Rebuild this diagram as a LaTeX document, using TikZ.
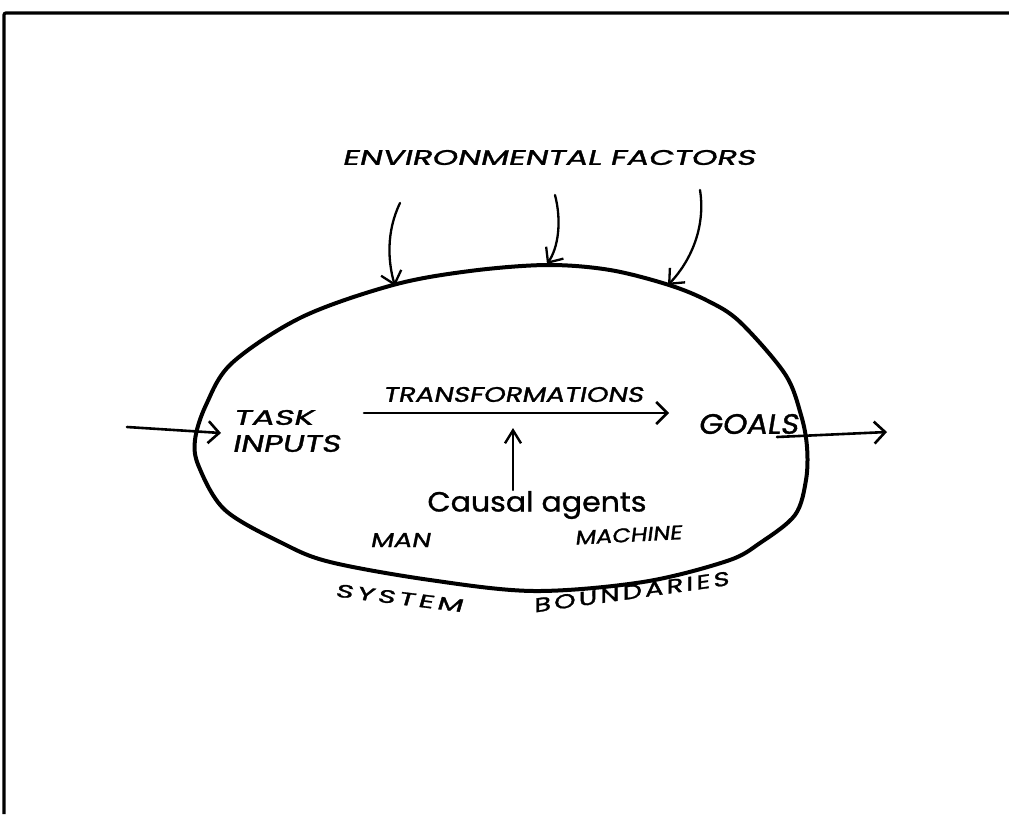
\documentclass[tikz,border=0pt]{standalone}
\usepackage{graphicx}
\usepackage{fontspec}
\usetikzlibrary{arrows.meta}
% hand-lettered look: slanted capitals, upright lower case
\newfontfamily\handcaps[FakeSlant=0.15,FakeBold=1.2]{Poppins}
\newfontfamily\handspaced[FakeSlant=0.1,FakeBold=1.4,LetterSpace=12]{Poppins}
\newfontfamily\handlower[FakeBold=1.0]{Poppins}
% set a text to an exact width and total height
\newcommand{\fitbox}[3]{\resizebox*{#1}{#2}{#3}}
\begin{document}
\begin{tikzpicture}[x=1pt,y=-1pt,
  boundary/.style={line width=4pt, line join=round},
  flow/.style={line width=2.6pt, line cap=round,
    -{Straight Barb[length=11pt,width=22pt]}},
  influx/.style={line width=2.3pt, line cap=round,
    -{Straight Barb[length=12pt,width=21pt]}},
  lbl/.style={inner sep=0pt, outer sep=0pt}]
\useasboundingbox (0,0) rectangle (1009,814);
\fill[white] (0,0) rectangle (1009,814);

% page frame (top and left edges)
\draw[line width=3.2pt, rounded corners=2pt] (4,814) -- (4,13) -- (1009,13);

% system boundary
\draw[boundary] plot[smooth cycle, tension=0.55] coordinates {
  (547,265) (610,270) (669,285) (708,301) (740,322) (785,374)
  (801,415) (807,447) (806,480) (795,515) (760,543) (727,561)
  (643,582) (534,591) (430,580) (330,562) (282,543) (225,510)
  (199,467) (195,440) (206,405) (232,363) (302,317) (393,285)
  (470,271)};

% labels
\node[lbl] (env)   at (548.5,157.5) {\fitbox{413pt}{15pt}{\handcaps ENVIRONMENTAL FACTORS}};
\node[lbl] (task)  at (273,417.5) {\fitbox{80pt}{15pt}{\handcaps TASK}};
\node[lbl] (inp)   at (286,443.5) {\fitbox{108pt}{17pt}{\handcaps INPUTS}};
\node[lbl] (trans) at (513,394.5) {\fitbox{260pt}{15pt}{\handcaps TRANSFORMATIONS}};
\node[lbl] (goals) at (748,424)   {\fitbox{100pt}{20pt}{\handcaps GOALS}};
\node[lbl] (causal) at (537,505)  {\fitbox{219pt}{28pt}{\handlower Causal agents}};
\node[lbl] (man)   at (400,540)   {\fitbox{60pt}{14pt}{\handcaps MAN}};
\node[lbl, rotate=3] (mach) at (628,535) {\fitbox{107pt}{14pt}{\handcaps MACHINE}};
\node[lbl, rotate=-7] (sys) at (399,598) {\fitbox{128pt}{13pt}{\handspaced SYSTEM}};
\node[lbl, rotate=8] (bound) at (631,592) {\fitbox{197pt}{14pt}{\handspaced BOUNDARIES}};

% connector end points
\coordinate (inS) at (127,427);   \coordinate (inE) at (221,433);
\coordinate (trS) at (364,413);   \coordinate (trE) at (669,413);
\coordinate (goS) at (777,437);   \coordinate (goE) at (887,432);
\coordinate (caE) at (513,428);
\coordinate (e1S) at (400,203);   \coordinate (e1E) at (395,286);
\coordinate (e2S) at (555,195);   \coordinate (e2E) at (547,264);
\coordinate (e3S) at (700,190);   \coordinate (e3E) at (668,285);

% inputs, transformation and output flows
\draw[flow] (inS) -- (inE);
\draw[flow] (trS) -- (trE);
\draw[flow] (goS) -- (goE);
\draw[line width=2.4pt, line cap=round, -{Straight Barb[length=13pt,width=16pt]}]
  (causal.north -| caE) ++(0,-1) -- (caE);

% environmental influences
\draw[influx] (e1S) .. controls (386,232) and (388,262) .. (e1E);
\draw[influx] (e2S) .. controls (562,222) and (558,248) .. (e2E);
\draw[influx] (e3S) .. controls (706,228) and (690,262) .. (e3E);
\end{tikzpicture}
\end{document}
